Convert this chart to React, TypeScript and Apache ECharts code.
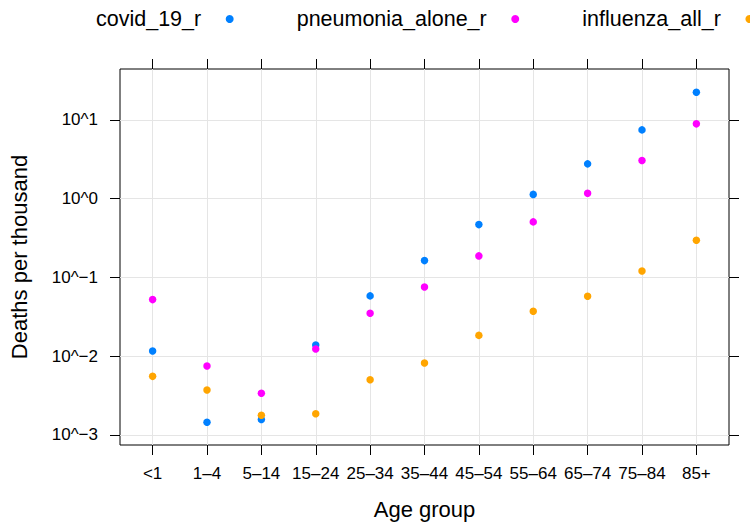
import React, { useEffect, useRef } from "react";
import * as echarts from "echarts";

const categories = ["<1", "1–4", "5–14", "15–24", "25–34", "35–44", "45–54", "55–64", "65–74", "75–84", "85+"];
const covid19 = [0.0116, 0.00144, 0.00156, 0.0138, 0.0581, 0.163, 0.467, 1.13, 2.76, 7.46, 22.4];
const pneumoniaAlone = [0.0521, 0.00748, 0.00336, 0.0123, 0.0349, 0.0755, 0.187, 0.506, 1.17, 3.04, 8.9];
const influenzaAll = [0.00552, 0.00371, 0.00177, 0.00185, 0.00501, 0.00817, 0.0183, 0.037, 0.0574, 0.1205, 0.295];
const seriesNames = ["covid_19_r", "pneumonia_alone_r", "influenza_all_r"];
const seriesColors = ["#0080ff", "#ff00ff", "#ffa500"];
const yTicks = [0.001, 0.01, 0.1, 1, 10];
const xTicks = categories.map((_, i) => i);
const yMinExp = -3.13;
const yMaxExp = 1.646;

const FONT = "'Liberation Sans', Arial, Helvetica, sans-serif";

function expLabel(v: number): string {
  const e = Math.round(Math.log10(v));
  return "10^" + (e < 0 ? "\u2212" + -e : String(e));
}

export default function App() {
  const ref = useRef<HTMLDivElement>(null);
  useEffect(() => {
    if (!ref.current) return;
    const chart = echarts.init(ref.current, null, { renderer: "svg" });
    const values = [covid19, pneumoniaAlone, influenzaAll];
    const tickStyle = { show: true, length: 10, inside: false, lineStyle: { color: "#000", width: 1 } };
    const noLine = { show: false, onZero: false };
    chart.setOption({
      animation: false,
      backgroundColor: "#fff",
      textStyle: { fontFamily: FONT },
      legend: {
        data: seriesNames,
        left: 96,
        top: 8,
        width: 700,
        padding: 0,
        align: "right",
        icon: "circle",
        itemWidth: 47,
        itemHeight: 8,
        itemGap: 63,
        textStyle: { fontSize: 21.5, color: "#000", fontFamily: FONT, lineHeight: 22 },
      },
      grid: {
        left: 120,
        top: 69,
        right: 21,
        bottom: 80,
        show: true,
        borderColor: "#000",
        borderWidth: 1,
        backgroundColor: "transparent",
        containLabel: false,
      },
      xAxis: [
        {
          type: "value",
          position: "bottom",
          min: -0.6,
          max: 10.6,
          axisLine: noLine,
          axisTick: { ...tickStyle, customValues: xTicks },
          axisLabel: {
            customValues: xTicks,
            formatter: (v: number) => categories[Math.round(v)] ?? "",
            fontSize: 17,
            color: "#000",
            fontFamily: FONT,
            margin: 20,
          },
          splitLine: { show: true, lineStyle: { color: "#e5e5e5", width: 1 } },
          name: "Age group",
          nameLocation: "middle",
          nameGap: 53,
          nameTextStyle: { fontSize: 22, color: "#000", fontFamily: FONT },
        },
        {
          type: "value",
          position: "top",
          min: -0.6,
          max: 10.6,
          axisLine: noLine,
          axisTick: { ...tickStyle, customValues: xTicks },
          axisLabel: { show: false },
          splitLine: { show: false },
        },
      ],
      yAxis: [
        {
          type: "log",
          logBase: 10,
          position: "left",
          min: Math.pow(10, yMinExp),
          max: Math.pow(10, yMaxExp),
          axisLine: noLine,
          axisTick: { ...tickStyle, customValues: yTicks },
          axisLabel: {
            customValues: yTicks,
            formatter: (v: number) => expLabel(v),
            fontSize: 17,
            color: "#000",
            fontFamily: FONT,
            margin: 22,
          },
          splitLine: { show: true, lineStyle: { color: "#e5e5e5", width: 1 } },
          minorTick: { show: false },
          minorSplitLine: { show: false },
          name: "Deaths per thousand",
          nameLocation: "middle",
          nameGap: 90,
          nameRotate: 90,
          nameTextStyle: { fontSize: 22, color: "#000", fontFamily: FONT },
        },
        {
          type: "log",
          logBase: 10,
          position: "right",
          min: Math.pow(10, yMinExp),
          max: Math.pow(10, yMaxExp),
          axisLine: noLine,
          axisTick: { ...tickStyle, customValues: yTicks },
          axisLabel: { show: false },
          splitLine: { show: false },
        },
      ],
      series: seriesNames.map((name, k) => ({
        name,
        type: "scatter",
        xAxisIndex: 0,
        yAxisIndex: 0,
        symbol: "circle",
        symbolSize: 7.5,
        itemStyle: { color: seriesColors[k], borderWidth: 0, opacity: 1 },
        emphasis: { disabled: true },
        data: values[k].map((v, i) => [i, v]),
      })),
    });
    return () => chart.dispose();
  }, []);
  return (
    <div
      ref={ref}
      style={{ position: "absolute", left: 0, top: 0, width: 750, height: 525 }}
    />
  );
}
